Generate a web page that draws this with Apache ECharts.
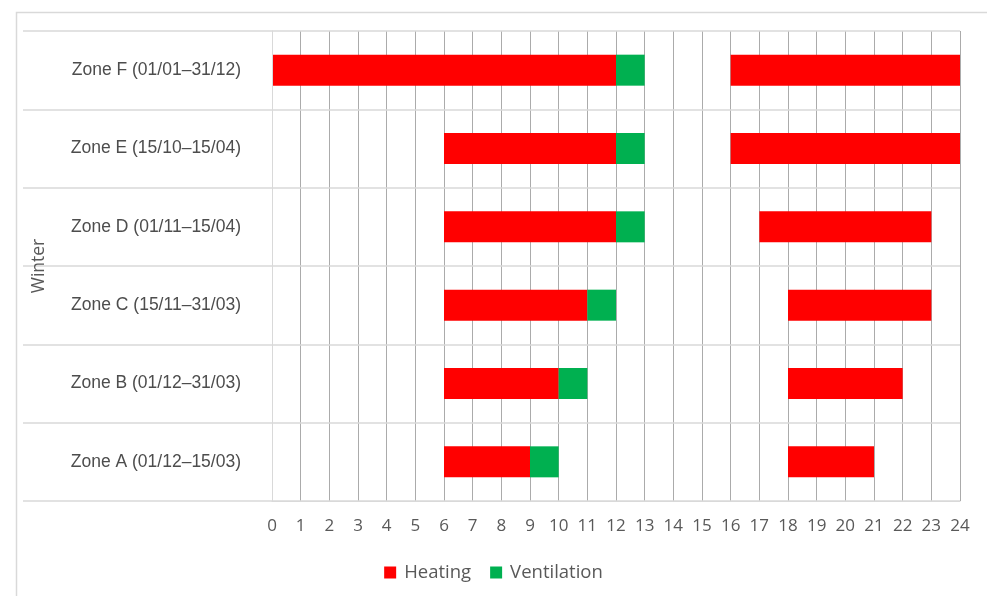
<!DOCTYPE html>
<html>
<head>
<meta charset="utf-8">
<script src="https://cdn.jsdelivr.net/npm/echarts@6/dist/echarts.min.js"></script>
<style>
  html, body { margin: 0; padding: 0; background: #fff; }
  #chart { width: 987px; height: 596px; }
</style>
</head>
<body>
<div id="chart"></div>
<script>
  // zones, bottom to top
  const zones = [
    'Zone A (01/12–15/03)',
    'Zone B (01/12–31/03)',
    'Zone C (15/11–31/03)',
    'Zone D (01/11–15/04)',
    'Zone E (15/10–15/04)',
    'Zone F (01/01–31/12)',
  ]
  // hours of the day
  const morningStart = [6, 6, 6, 6, 6, 0]
  const morningEnd = [9, 10, 11, 12, 12, 12]
  const ventEnd = [10, 11, 12, 13, 13, 13]
  const eveningStart = [18, 18, 18, 17, 16, 16]
  const eveningEnd = [21, 22, 23, 23, 24, 24]
  const hourTicks = [0, 24, 1]

  const red = '#ff0000'
  const green = '#00b050'
  const grey = '#595959'
  const font = 'Open Sans'

  const offset = morningStart
  const heat1 = morningStart.map((s, i) => morningEnd[i] - s)
  const vent = morningEnd.map((s, i) => ventEnd[i] - s)
  const gap = eveningStart.map((s, i) => s - ventEnd[i])
  const heat2 = eveningStart.map((s, i) => eveningEnd[i] - s)

  const chart = echarts.init(document.getElementById('chart'))

  function bar(name, data, color) {
    return {
      name: name,
      type: 'bar',
      stack: 'day',
      data: data,
      barWidth: 31,
      silent: color === 'transparent',
      itemStyle: { color: color },
      xAxisIndex: 0,
      yAxisIndex: 0,
    }
  }

  const option = {
    animation: false,
    textStyle: { fontFamily: font },
    graphic: [
      {
        type: 'rect',
        left: 14,
        top: 10,
        shape: { width: 1000, height: 620 },
        style: { fill: 'none', stroke: '#d9d9d9', lineWidth: 1.5 },
        silent: true,
        z: -1,
      },
    ],
    grid: [
      { left: 272, right: 27, top: 31, bottom: 95 },
      { left: 23, width: 249, top: 31, bottom: 95 },
    ],
    legend: {
      bottom: 9,
      left: 'center',
      icon: 'rect',
      itemWidth: 12,
      itemHeight: 12,
      itemGap: 19,
      textStyle: { color: grey, fontSize: 18.5, fontFamily: font, padding: [0, 0, 0, 3] },
      data: ['Heating', 'Ventilation'],
    },
    xAxis: [
      {
        type: 'value',
        gridIndex: 0,
        min: hourTicks[0],
        max: hourTicks[1],
        interval: hourTicks[2],
        axisLine: { show: true, lineStyle: { color: '#d9d9d9' } },
        axisTick: { show: false },
        axisLabel: { color: grey, fontSize: 17, margin: 17, fontFamily: font },
        splitLine: { show: true, lineStyle: { color: '#ababab', width: 1 } },
      },
      { type: 'value', gridIndex: 1, show: false },
    ],
    yAxis: [
      {
        type: 'category',
        gridIndex: 0,
        data: zones,
        axisLine: { show: true, lineStyle: { color: '#d9d9d9' } },
        axisTick: { show: false },
        axisLabel: {
          color: '#4d4d4d',
          fontSize: 17.5,
          margin: 31,
          fontFamily: 'Liberation Sans',
        },
        splitLine: { show: true, lineStyle: { color: '#d9d9d9', width: 1.5 } },
        z: 3,
      },
      {
        type: 'category',
        gridIndex: 1,
        data: zones,
        name: 'Winter',
        nameLocation: 'middle',
        nameRotate: 90,
        nameGap: -25,
        nameTextStyle: { color: grey, fontSize: 17.5, fontFamily: font },
        axisLine: { show: false },
        axisTick: { show: false },
        axisLabel: { show: false },
        splitLine: { show: true, lineStyle: { color: '#d9d9d9', width: 1.5 } },
      },
    ],
    series: [
      bar('offset', offset, 'transparent'),
      bar('Heating', heat1, red),
      bar('Ventilation', vent, green),
      bar('gap', gap, 'transparent'),
      bar('Heating', heat2, red),
    ],
  }
  chart.setOption(option)
</script>
</body>
</html>
